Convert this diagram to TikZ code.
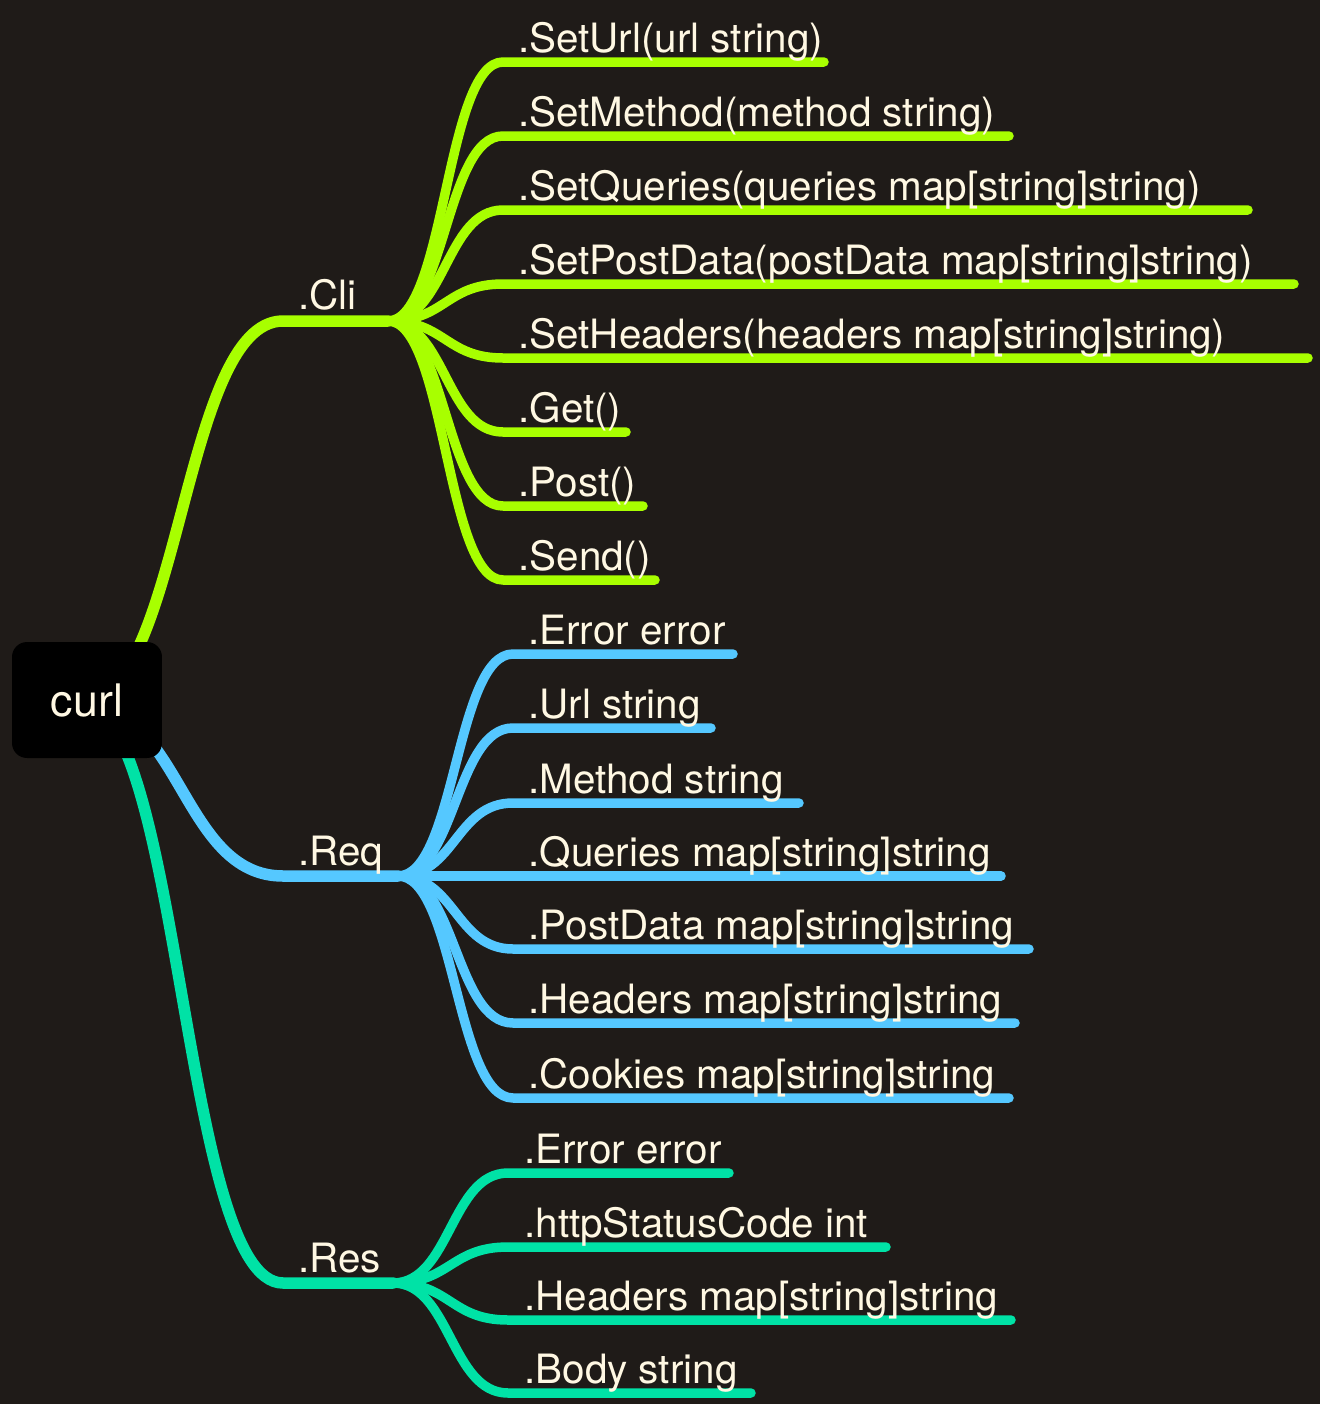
\documentclass[tikz,border=0pt]{standalone}
\usepackage{fontspec}
\setmainfont{TeX Gyre Heros}
\definecolor{bgdark}{HTML}{1F1B18}
\definecolor{cligreen}{HTML}{A8FF00}
\definecolor{reqblue}{HTML}{55C8FF}
\definecolor{resteal}{HTML}{00E2A6}
\definecolor{txtcream}{HTML}{FFF8E3}
\begin{document}
\begin{tikzpicture}[line cap=round,line join=round,x=0.02cm,y=-0.02cm,
lbl/.style={anchor=base west,inner sep=0pt,text=txtcream,
  font=\fontsize{23}{27}\selectfont},
trunk/.style={line width=0.23cm},
twig/.style={line width=0.19cm},
rootbox/.style={fill=black,rounded corners=0.3cm,minimum width=3cm,
  minimum height=2.32cm,text=txtcream,font=\fontsize{25.5}{30}\selectfont}]
% nen va khung
\fill[bgdark] (0,0) rectangle (1320,1404);
\useasboundingbox (0,0) rectangle (1320,1404);
\coordinate (src) at (80,703);
% ba nhanh chinh
\coordinate (cli-b) at (283,321); \coordinate (cli-hub) at (388,321);
\coordinate (req-b) at (283,876); \coordinate (req-hub) at (398,876);
\coordinate (res-b) at (283,1283); \coordinate (res-hub) at (393,1283);
\draw[trunk,cligreen] (src) to[out=0,in=180,distance=2.03cm] (cli-b) -- (cli-hub);
\draw[trunk,reqblue] (src) to[out=0,in=180,distance=2.03cm] (req-b) -- (req-hub);
\draw[trunk,resteal] (src) to[out=0,in=180,distance=2.03cm] (res-b) -- (res-hub);
\node[lbl] (cli) at (298,309) {.Cli};
\node[lbl] (req) at (298,865) {.Req};
\node[lbl] (res) at (298,1272) {.Res};
% nhanh .Cli
\foreach \y/\e/\t [count=\i] in {62/824/{.SetUrl(url string)},
  136/1009/{.SetMethod(method string)},
  210/1248/{.SetQueries(queries map[string]string)},
  284/1294/{.SetPostData(postData map[string]string)},
  358/1308/{.SetHeaders(headers map[string]string)},
  432/626/{.Get()},506/643/{.Post()},580/655/{.Send()}}{
  \coordinate (cli-\i) at (503,\y);
  \coordinate (cli-\i-end) at (\e,\y);
  \draw[twig,cligreen] (cli-hub) to[out=0,in=180,distance=1.15cm] (cli-\i) -- (cli-\i-end);
  \node[lbl] (cli-\i-t) at (518,\y-10) {\t};
}
% nhanh .Req
\foreach \y/\e/\t [count=\i] in {654/733/{.Error error},
  728/711/{.Url string},803/799/{.Method string},
  876/1001/{.Queries map[string]string},
  949/1029/{.PostData map[string]string},
  1023/1015/{.Headers map[string]string},
  1098/1009/{.Cookies map[string]string}}{
  \coordinate (req-\i) at (513,\y);
  \coordinate (req-\i-end) at (\e,\y);
  \draw[twig,reqblue] (req-hub) to[out=0,in=180,distance=1.15cm] (req-\i) -- (req-\i-end);
  \node[lbl] (req-\i-t) at (528,\y-10) {\t};
}
% nhanh .Res
\foreach \y/\e/\t [count=\i] in {1173/729/{.Error error},
  1247/886/{.httpStatusCode int},
  1320/1011/{.Headers map[string]string},
  1393/751/{.Body string}}{
  \coordinate (res-\i) at (508,\y);
  \coordinate (res-\i-end) at (\e,\y);
  \draw[twig,resteal] (res-hub) to[out=0,in=180,distance=1.15cm] (res-\i) -- (res-\i-end);
  \node[lbl] (res-\i-t) at (524,\y-10) {\t};
}
% nut goc
\node[rootbox] (root) at (87,700) {curl};
\end{tikzpicture}
\end{document}
